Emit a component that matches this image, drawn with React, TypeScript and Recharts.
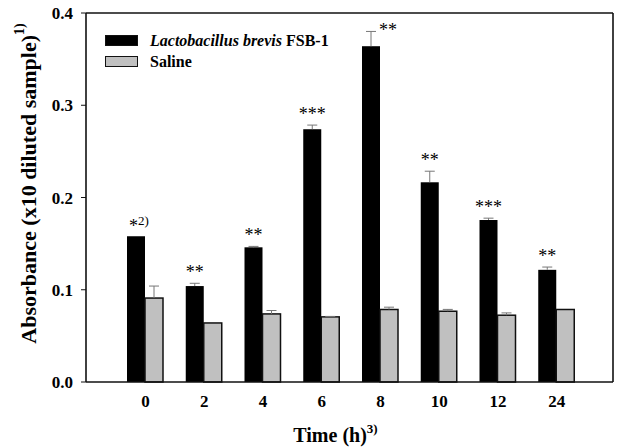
import { BarChart, Bar, XAxis, YAxis, Legend, CartesianGrid } from "recharts";

const times = ["0", "2", "4", "6", "8", "10", "12", "24"];
const brevis = [0.158, 0.104, 0.146, 0.274, 0.364, 0.2165, 0.1756, 0.1216];
const brevisErr = [0, 0.003, 0.001, 0.0045, 0.016, 0.012, 0.002, 0.003];
const saline = [0.091, 0.064, 0.0738, 0.0706, 0.0786, 0.0767, 0.0724, 0.0786];
const salineErr = [0.013, 0, 0.0037, 0.0005, 0.0025, 0.002, 0.0025, 0];
const marks = ["*", "**", "**", "***", "**", "**", "***", "**"];
const yTicks = [0, 0.1, 0.2, 0.3, 0.4];

const rows = times.map((t, i) => ({
  time: t,
  lb: brevis[i],
  lbErr: brevisErr[i],
  saline: saline[i],
  salineErr: salineErr[i],
  mark: marks[i],
}));

const FONT = "'Liberation Serif', 'Times New Roman', serif";
const WHISKER = "#777";

// upper half of the error bar, scaled with the bar's own pixels-per-unit
function Whisker({ cx, y, len }: { cx: number; y: number; len: number }) {
  if (len <= 0.3) return null;
  return (
    <g stroke={WHISKER} strokeWidth={1}>
      <line x1={cx} y1={y} x2={cx} y2={y - len} />
      <line x1={cx - 5} y1={y - len} x2={cx + 5} y2={y - len} />
    </g>
  );
}

function LbBar(props: any) {
  const { x, y, width, height, payload, index } = props;
  const perUnit = payload.lb > 0 ? height / payload.lb : 0;
  const len = payload.lbErr * perUnit;
  const errTop = y - len;
  const cx = x + width / 2;
  // the tallest bar has its stars beside the whisker
  const beside = index === 4;
  return (
    <g>
      <rect x={x} y={y} width={width} height={height} fill="#000" />
      <Whisker cx={cx} y={y} len={len} />
      {index === 0 ? (
        <text x={cx - 7} y={y - 4.5} fontFamily={FONT} fontSize={18} fill="#000">
          {payload.mark}
          <tspan fontSize={13} dy={-7}>2)</tspan>
        </text>
      ) : (
        <text
          x={beside ? cx + 8 : cx}
          y={beside ? errTop + 4.5 : errTop - 5}
          textAnchor={beside ? "start" : "middle"}
          fontFamily={FONT}
          fontSize={18}
          fill="#000"
        >
          {payload.mark}
        </text>
      )}
    </g>
  );
}

function SalineBar(props: any) {
  const { x, y, width, height, payload } = props;
  const perUnit = payload.saline > 0 ? height / payload.saline : 0;
  const len = payload.salineErr * perUnit;
  return (
    <g>
      <rect x={x} y={y} width={width} height={height} fill="#c0c0c0" stroke="#111" strokeWidth={1.5} />
      <Whisker cx={x + width / 2} y={y} len={len} />
    </g>
  );
}

function LegendBox() {
  const row = { display: "flex", alignItems: "center", height: 21 };
  const sw = { width: 31, height: 9, border: "1px solid #111", marginRight: 12 };
  return (
    <div style={{ fontFamily: FONT, fontWeight: "bold", fontSize: 16, color: "#000" }}>
      <div style={row}>
        <span style={{ ...sw, background: "#000" }} />
        <span><i>Lactobacillus brevis</i> FSB-1</span>
      </div>
      <div style={row}>
        <span style={{ ...sw, background: "#c0c0c0" }} />
        <span>Saline</span>
      </div>
    </div>
  );
}

function YTitle(props: any) {
  const vb = props.viewBox;
  const x = vb.x + 28;
  const y = vb.y + vb.height / 2 - 14;
  return (
    <text
      x={x}
      y={y}
      transform={`rotate(-90, ${x}, ${y})`}
      textAnchor="middle"
      dominantBaseline="central"
      fontFamily={FONT}
      fontWeight="bold"
      fontSize={22}
      fill="#000"
    >
      Absorbance (x10 diluted sample)
      <tspan fontSize={14} dy={-9}>1)</tspan>
    </text>
  );
}

function XTitle(props: any) {
  const vb = props.viewBox;
  return (
    <text
      x={vb.x + vb.width / 2 - 14}
      y={442}
      textAnchor="middle"
      fontFamily={FONT}
      fontWeight="bold"
      fontSize={20}
      fill="#000"
    >
      Time (h)
      <tspan fontSize={13} dy={-9}>3)</tspan>
    </text>
  );
}

export default function App() {
  const tickStyle = { fontFamily: FONT, fontWeight: "bold", fontSize: 17, fill: "#000" };
  return (
    <div style={{ position: "absolute", left: 0, top: 0, background: "#fff" }}>
      <BarChart
        width={617}
        height={447}
        data={rows}
        margin={{ top: 13, right: 4, left: 0, bottom: 35 }}
        barSize={18}
        barGap={0}
      >
        {/* top and right edges of the frame */}
        <CartesianGrid
          stroke="#111"
          strokeWidth={1.6}
          horizontalCoordinatesGenerator={({ offset }: any) => [offset.top]}
          verticalCoordinatesGenerator={({ offset }: any) => [offset.left + offset.width]}
        />
        <XAxis
          dataKey="time"
          padding={{ left: 30, right: 27 }}
          tickLine={false}
          tickMargin={7}
          tick={tickStyle}
          height={30}
          axisLine={{ stroke: "#111", strokeWidth: 1.6 }}
          label={{ content: XTitle }}
        />
        <YAxis
          domain={[0, 0.4]}
          ticks={yTicks}
          tickFormatter={(v: number) => v.toFixed(1)}
          width={86}
          tickSize={5}
          tickMargin={8}
          tick={tickStyle}
          tickLine={{ stroke: "#111" }}
          axisLine={{ stroke: "#111", strokeWidth: 1.6 }}
          label={{ content: YTitle }}
        />
        <Legend
          layout="vertical"
          align="center"
          verticalAlign="middle"
          wrapperStyle={{ top: 30, left: 105, width: "auto" }}
          content={LegendBox}
        />
        <Bar dataKey="lb" fill="#000" shape={LbBar} isAnimationActive={false} />
        <Bar dataKey="saline" fill="#c0c0c0" shape={SalineBar} isAnimationActive={false} />
      </BarChart>
    </div>
  );
}
